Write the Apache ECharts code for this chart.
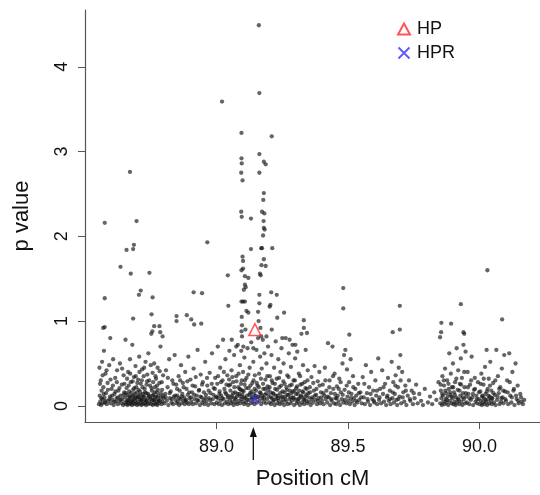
<!DOCTYPE html>
<html>
<head>
<meta charset="utf-8">
<script src="https://cdn.jsdelivr.net/npm/echarts@6/dist/echarts.min.js"></script>
<style>
  html, body { margin: 0; padding: 0; background: #fff; }
  #main { width: 540px; height: 495px; }
</style>
</head>
<body>
<div id="main"></div>
<script type="text/javascript">
// tick values
var xTicks = [89.0, 89.5, 90.0];
var yTicks = [0, 1, 2, 3, 4];

// marker SNPs
var hpPoint = [[89.146, 0.90]];
var hprPoint = [[89.146, 0.08]];
var arrowPos = 89.14;

// SNPs [position cM, p value]
var segA = [
  [88.553,0.02],[88.555,0.45],[88.556,0.12],[88.558,0.05],[88.560,0.30],[88.561,0.01],[88.563,0.18],[88.565,0.52],[88.566,0.08],[88.568,0.03],[88.570,0.22],[88.572,0.65],[88.574,0.10],[88.576,0.04],[88.578,0.38],[88.580,0.15],[88.583,0.02],[88.586,0.27],[88.589,0.06],[88.592,0.48],[88.595,0.11],[88.598,0.03],
  [88.601,0.20],[88.604,0.07],[88.607,0.55],[88.609,0.01],[88.612,0.14],[88.615,0.33],[88.617,0.05],[88.620,0.09],[88.622,0.42],[88.625,0.02],[88.627,0.18],[88.630,0.06],[88.633,0.50],[88.635,0.12],[88.638,0.03],[88.640,0.25],[88.642,0.08],[88.645,0.01],[88.647,0.36],[88.649,0.16],
  [88.651,0.04],[88.653,0.10],[88.654,0.78],[88.656,0.02],[88.658,0.21],[88.659,0.06],[88.661,0.13],[88.662,0.01],[88.664,0.40],[88.665,0.07],[88.667,0.03],[88.668,0.17],[88.670,0.09],[88.671,0.55],[88.673,0.02],[88.674,0.28],[88.676,0.05],[88.677,0.11],[88.679,0.01],[88.680,0.72],[88.682,0.04],[88.683,0.19],[88.685,0.08],[88.686,0.34],[88.688,0.02],[88.689,0.14],[88.691,0.06],[88.692,0.47],[88.694,0.03],[88.695,0.22],[88.697,0.10],[88.698,0.01],
  [88.700,0.05],[88.702,0.31],[88.703,0.12],[88.705,0.02],[88.706,0.58],[88.708,0.08],[88.709,0.17],[88.711,0.04],[88.712,0.26],[88.714,0.01],[88.715,0.09],[88.717,0.43],[88.718,0.06],[88.720,0.14],[88.721,0.02],[88.723,0.35],[88.724,0.11],[88.726,0.03],[88.727,0.20],[88.729,0.07],[88.730,0.52],[88.732,0.01],[88.733,0.15],[88.735,0.05],[88.736,0.29],[88.738,0.09],[88.739,0.02],[88.741,0.62],[88.743,0.12],[88.745,0.04],[88.747,0.24],[88.749,0.08],
  [88.751,0.02],[88.752,0.85],[88.754,0.18],[88.755,0.06],[88.757,0.39],[88.758,0.01],[88.760,0.13],[88.761,0.07],[88.763,0.50],[88.764,0.03],[88.766,0.22],[88.767,0.10],[88.769,0.02],[88.770,0.32],[88.772,0.05],[88.773,0.16],[88.775,0.01],[88.776,0.45],[88.778,0.08],[88.779,0.12],[88.781,0.03],[88.783,0.27],[88.785,0.06],[88.787,0.70],[88.789,0.10],[88.791,0.02],[88.793,0.19],[88.795,0.05],[88.797,0.36],[88.799,0.09]
];

var segB = [
  [88.802,0.03],[88.805,0.14],[88.808,0.42],[88.811,0.06],[88.814,0.22],[88.817,0.01],[88.820,0.55],[88.823,0.09],[88.826,0.17],[88.829,0.04],[88.832,0.30],[88.835,0.02],[88.838,0.11],[88.841,0.60],[88.844,0.07],[88.847,0.25],[88.849,0.03],
  [88.851,0.12],[88.853,0.05],[88.856,0.35],[88.858,0.01],[88.860,0.18],[88.863,0.08],[88.865,0.48],[88.867,0.03],[88.870,0.14],[88.872,0.27],[88.874,0.06],[88.877,0.10],[88.879,0.02],[88.881,0.40],[88.884,0.07],[88.886,0.20],[88.888,0.04],[88.891,0.13],[88.893,0.58],[88.895,0.02],[88.898,0.09],
  [88.901,0.31],[88.904,0.05],[88.907,0.16],[88.910,0.02],[88.913,0.44],[88.916,0.08],[88.919,0.23],[88.922,0.03],[88.925,0.12],[88.928,0.66],[88.931,0.06],[88.934,0.19],[88.937,0.01],[88.940,0.37],[88.943,0.10],[88.946,0.04],[88.948,0.28],
  [88.951,0.07],[88.954,0.02],[88.957,0.52],[88.960,0.13],[88.962,0.05],[88.965,0.24],[88.968,0.01],[88.971,0.09],[88.974,0.39],[88.977,0.15],[88.980,0.03],[88.983,0.62],[88.986,0.08],[88.989,0.21],[88.992,0.02],[88.995,0.33],[88.998,0.11],
  [89.001,0.04],[89.003,0.26],[89.005,0.70],[89.007,0.09],[89.009,0.02],[89.012,0.17],[89.014,0.45],[89.016,0.06],[89.018,0.12],[89.021,0.01],[89.023,0.30],[89.025,0.78],[89.027,0.08],[89.030,0.20],[89.032,0.03],[89.034,0.55],[89.036,0.14],[89.039,0.05],[89.041,0.36],[89.043,0.10],[89.045,0.02],[89.047,0.24],[89.049,0.65]
];

var segC = [
  [89.051,0.07],[89.053,0.18],[89.055,0.03],[89.057,0.42],[89.059,0.12],[89.061,0.05],[89.063,0.28],[89.065,0.01],[89.067,0.60],[89.069,0.09],[89.071,0.16],[89.073,0.04],[89.075,0.35],[89.077,0.11],[89.079,0.02],[89.081,0.72],[89.083,0.22],[89.085,0.06],[89.087,0.14],[89.089,0.48],[89.090,0.03],[89.092,0.19],[89.094,0.65],[89.095,0.08],[89.096,0.30],[89.097,0.82],[89.098,0.13],
  [89.100,0.05],[89.101,0.40],[89.102,0.70],[89.103,0.17],[89.105,0.02],[89.106,0.57],[89.107,0.25],[89.109,0.09],[89.110,0.90],[89.112,0.04],[89.114,0.33],[89.116,0.12],[89.118,0.68],[89.120,0.01],[89.122,0.21],[89.124,0.07],[89.126,0.45],[89.128,0.15],[89.130,0.03],[89.132,0.75],[89.134,0.10],[89.136,0.27],[89.138,0.05],[89.140,0.52],[89.142,0.14],[89.144,0.02],[89.146,0.36],[89.148,0.09],
  [89.150,0.18],[89.152,0.66],[89.154,0.04],[89.156,0.24],[89.158,0.80],[89.160,0.11],[89.162,0.38],[89.164,0.06],[89.166,0.58],[89.168,0.15],[89.170,0.02],[89.172,0.44],[89.174,0.09],[89.176,0.78],[89.178,0.20],[89.180,0.05],[89.182,0.62],[89.184,0.13],[89.186,0.31],[89.188,0.03],[89.190,0.50],[89.192,0.08],[89.194,0.23],[89.196,0.70],[89.198,0.12]
];

var segD = [
  [89.201,0.04],[89.203,0.35],[89.205,0.16],[89.207,0.02],[89.209,0.60],[89.211,0.09],[89.213,0.27],[89.215,0.05],[89.217,0.14],[89.219,0.45],[89.221,0.01],[89.223,0.20],[89.225,0.76],[89.227,0.08],[89.229,0.32],[89.231,0.03],[89.233,0.12],[89.235,0.55],[89.237,0.06],[89.239,0.22],[89.241,0.02],[89.243,0.40],[89.245,0.10],[89.247,0.68],[89.249,0.04],
  [89.251,0.17],[89.253,0.07],[89.255,0.50],[89.257,0.01],[89.259,0.26],[89.261,0.11],[89.263,0.80],[89.265,0.05],[89.267,0.19],[89.269,0.36],[89.271,0.02],[89.273,0.13],[89.275,0.62],[89.277,0.08],[89.279,0.24],[89.281,0.03],[89.283,0.46],[89.285,0.15],[89.287,0.06],[89.289,0.72],[89.291,0.10],[89.293,0.30],[89.295,0.01],[89.297,0.18],[89.299,0.56],
  [89.301,0.07],[89.303,0.21],[89.305,0.03],[89.307,0.64],[89.309,0.14],[89.311,0.05],[89.313,0.38],[89.315,0.09],[89.317,0.01],[89.319,0.25],[89.321,0.12],[89.323,0.85],[89.325,0.04],[89.327,0.17],[89.329,0.48],[89.331,0.08],[89.333,0.02],[89.335,0.28],[89.337,0.11],[89.339,0.66],[89.341,0.06],[89.343,0.20],[89.345,0.03],[89.347,0.42],[89.349,0.15],
  [89.352,0.05],[89.355,0.22],[89.358,0.01],[89.361,0.34],[89.364,0.10],[89.367,0.04],[89.370,0.18],[89.373,0.47],[89.376,0.07],[89.379,0.13],[89.382,0.02],[89.385,0.29],[89.388,0.09],[89.391,0.40],[89.394,0.03],[89.397,0.16]
];

var segE = [
  [89.401,0.06],[89.404,0.25],[89.407,0.02],[89.410,0.12],[89.412,0.45],[89.415,0.08],[89.418,0.18],[89.421,0.04],[89.424,0.74],[89.427,0.10],[89.430,0.30],[89.432,0.01],[89.435,0.15],[89.438,0.06],[89.441,0.70],[89.444,0.20],[89.447,0.03],[89.449,0.38],
  [89.452,0.09],[89.455,0.02],[89.458,0.23],[89.461,0.12],[89.464,0.05],[89.467,0.32],[89.470,0.01],[89.473,0.16],[89.476,0.08],[89.479,0.50],[89.482,0.04],[89.485,0.60],[89.487,0.19],[89.490,0.66],[89.493,0.03],[89.496,0.43],[89.498,0.11],
  [89.501,0.06],[89.504,0.28],[89.507,0.02],[89.510,0.55],[89.513,0.14],[89.516,0.05],[89.519,0.35],[89.522,0.09],[89.525,0.01],[89.528,0.20],[89.531,0.12],[89.535,0.04],[89.539,0.26],[89.543,0.07],[89.547,0.16],
  [89.552,0.03],[89.556,0.34],[89.560,0.10],[89.564,0.02],[89.568,0.48],[89.572,0.15],[89.576,0.05],[89.580,0.22],[89.584,0.01],[89.588,0.40],[89.592,0.08],[89.596,0.18],
  [89.600,0.04],[89.604,0.30],[89.607,0.12],[89.611,0.02],[89.615,0.56],[89.618,0.07],[89.622,0.20],[89.626,0.03],[89.630,0.42],[89.633,0.14],[89.637,0.05],[89.641,0.26],[89.645,0.01],[89.648,0.10],
  [89.652,0.33],[89.655,0.06],[89.659,0.18],[89.662,0.02],[89.666,0.52],[89.669,0.09],[89.672,0.28],[89.675,0.04],[89.678,0.14],[89.681,0.36],[89.684,0.07],[89.687,0.01],[89.690,0.22],[89.693,0.45],[89.696,0.11],[89.699,0.60],
  [89.702,0.03],[89.706,0.40],[89.710,0.16],[89.714,0.05],[89.718,0.24],[89.722,0.01],[89.727,0.12],[89.732,0.30],[89.737,0.06],[89.742,0.18],[89.747,0.02],
  [89.753,0.09],[89.759,0.25],[89.765,0.03],[89.771,0.14],[89.778,0.06],[89.785,0.01],[89.792,0.20],
  [89.804,0.04],[89.812,0.11],[89.820,0.02],[89.828,0.16],[89.836,0.07],[89.844,0.28]
];

var segF = [
  [89.851,0.03],[89.853,0.18],[89.855,0.09],[89.857,0.01],[89.859,0.35],[89.861,0.12],[89.863,0.05],[89.865,0.24],[89.867,0.02],[89.869,0.44],[89.871,0.08],[89.873,0.15],[89.875,0.04],[89.877,0.30],[89.879,0.11],[89.881,0.01],[89.883,0.20],[89.885,0.62],[89.887,0.06],[89.889,0.13],[89.891,0.38],[89.893,0.03],[89.895,0.22],[89.897,0.09],[89.899,0.50],
  [89.901,0.02],[89.903,0.16],[89.905,0.05],[89.907,0.28],[89.909,0.01],[89.911,0.10],[89.913,0.68],[89.915,0.04],[89.917,0.19],[89.919,0.42],[89.921,0.07],[89.923,0.02],[89.925,0.26],[89.927,0.12],[89.929,0.56],[89.931,0.05],[89.933,0.33],[89.935,0.01],[89.937,0.15],[89.939,0.72],[89.941,0.08],[89.943,0.22],[89.945,0.03],[89.947,0.64],[89.949,0.11],
  [89.952,0.04],[89.955,0.40],[89.958,0.14],[89.961,0.02],[89.964,0.25],[89.967,0.07],[89.970,0.58],[89.973,0.10],[89.976,0.01],[89.979,0.19],[89.982,0.33],[89.985,0.05],[89.988,0.12],[89.991,0.03],[89.994,0.28],[89.997,0.08],
  [90.001,0.02],[90.003,0.17],[90.005,0.06],[90.007,0.38],[90.009,0.01],[90.011,0.12],[90.013,0.04],[90.015,0.25],[90.017,0.09],[90.019,0.02],[90.021,0.46],[90.023,0.14],[90.025,0.05],[90.027,0.66],[90.029,0.01],[90.031,0.20],[90.033,0.08],[90.035,0.32],[90.037,0.03],[90.039,0.11],[90.041,0.52],[90.043,0.06],[90.045,0.18],[90.047,0.02],[90.049,0.09],
  [90.052,0.27],[90.055,0.04],[90.058,0.13],[90.061,0.01],[90.064,0.66],[90.067,0.07],[90.070,0.35],[90.073,0.15],[90.076,0.02],[90.079,0.22],[90.082,0.05],[90.085,0.44],[90.088,0.10],[90.091,0.03],[90.094,0.60],[90.097,0.17],
  [90.101,0.06],[90.105,0.30],[90.109,0.02],[90.113,0.62],[90.117,0.12],[90.121,0.04],[90.125,0.40],[90.129,0.18],[90.133,0.01],[90.137,0.50],[90.141,0.08],[90.145,0.24],[90.149,0.03],
  [90.155,0.14],[90.160,0.05],[90.165,0.02],[90.170,0.07]
];

// the thick part of the band, 0.05 - 0.5
var band = [
  [88.557,0.26],[88.562,0.09],[88.567,0.36],[88.571,0.14],[88.577,0.06],[88.582,0.42],[88.587,0.19],[88.593,0.08],[88.597,0.31],[88.603,0.12],[88.606,0.24],[88.611,0.05],[88.616,0.17],[88.621,0.28],[88.626,0.10],[88.631,0.21],[88.636,0.07],[88.641,0.44],[88.646,0.13],[88.650,0.26],
  [88.655,0.15],[88.660,0.32],[88.663,0.05],[88.666,0.24],[88.669,0.11],[88.672,0.38],[88.675,0.15],[88.678,0.06],[88.681,0.29],[88.684,0.12],[88.687,0.21],[88.690,0.09],[88.693,0.35],[88.696,0.16],[88.699,0.27],[88.701,0.10],[88.704,0.19],[88.707,0.40],[88.710,0.13],[88.713,0.07],
  [88.716,0.30],[88.719,0.22],[88.722,0.11],[88.725,0.45],[88.728,0.16],[88.731,0.06],[88.734,0.25],[88.737,0.37],[88.740,0.14],[88.744,0.30],[88.748,0.10],[88.750,0.48],[88.753,0.21],[88.756,0.12],[88.759,0.28],[88.762,0.07],[88.765,0.16],[88.768,0.35],[88.771,0.11],[88.774,0.24],
  [88.777,0.19],[88.780,0.06],[88.784,0.41],[88.788,0.15],[88.792,0.28],[88.796,0.12],
  [88.807,0.10],[88.815,0.33],[88.822,0.15],[88.830,0.08],[88.836,0.26],[88.843,0.12],[88.850,0.20],[88.857,0.09],[88.862,0.30],[88.868,0.11],[88.875,0.22],[88.882,0.06],[88.889,0.29],[88.896,0.16],[88.903,0.10],[88.909,0.24],[88.915,0.13],[88.921,0.34],[88.927,0.07],[88.933,0.18],
  [88.939,0.11],[88.945,0.25],[88.952,0.16],[88.958,0.09],[88.964,0.33],[88.970,0.18],[88.976,0.07],[88.982,0.26],[88.988,0.13],[88.994,0.20],[89.000,0.10],[89.006,0.35],[89.011,0.14],[89.017,0.28],[89.022,0.09],[89.028,0.40],[89.033,0.16],[89.038,0.25],[89.044,0.12],[89.048,0.31],
  [89.052,0.25],[89.056,0.10],[89.060,0.34],[89.064,0.15],[89.068,0.22],[89.072,0.08],[89.076,0.29],[89.080,0.14],[89.084,0.38],[89.088,0.20],[89.091,0.11],[89.093,0.26],[89.099,0.18],[89.104,0.10],[89.108,0.30],[89.113,0.21],[89.117,0.07],[89.121,0.37],[89.125,0.13],[89.129,0.24],
  [89.133,0.17],[89.137,0.09],[89.141,0.30],[89.145,0.20],[89.149,0.12],[89.153,0.27],[89.157,0.10],[89.161,0.22],[89.165,0.16],[89.169,0.32],[89.173,0.12],[89.177,0.26],[89.181,0.09],[89.185,0.20],[89.189,0.15],[89.193,0.35],[89.197,0.19],
  [89.202,0.22],[89.206,0.10],[89.210,0.30],[89.214,0.15],[89.218,0.07],[89.222,0.26],[89.226,0.12],[89.230,0.19],[89.234,0.09],[89.238,0.33],[89.242,0.15],[89.246,0.24],[89.250,0.11],[89.254,0.29],[89.258,0.16],[89.262,0.08],[89.266,0.22],[89.270,0.13],[89.274,0.34],[89.278,0.18],
  [89.282,0.10],[89.286,0.25],[89.290,0.17],[89.294,0.09],[89.298,0.30],[89.302,0.14],[89.306,0.23],[89.310,0.08],[89.314,0.18],[89.318,0.35],[89.322,0.11],[89.326,0.26],[89.330,0.16],[89.334,0.07],[89.338,0.21],[89.342,0.13],[89.346,0.30],[89.350,0.10],[89.356,0.16],[89.362,0.08],
  [89.368,0.27],[89.374,0.12],[89.380,0.20],[89.386,0.06],[89.392,0.24],[89.398,0.10],
  [89.406,0.15],[89.414,0.30],[89.422,0.11],[89.429,0.22],[89.436,0.08],[89.443,0.35],[89.450,0.14],[89.457,0.09],[89.465,0.20],[89.472,0.28],[89.480,0.13],[89.488,0.07],[89.495,0.24],[89.503,0.16],[89.511,0.09],[89.520,0.22],[89.530,0.06],[89.541,0.15],[89.550,0.10],[89.562,0.26],
  [89.574,0.08],[89.586,0.14],[89.598,0.06],[89.610,0.18],[89.620,0.10],[89.635,0.22],[89.650,0.12],[89.660,0.08],[89.670,0.16],[89.680,0.24],[89.692,0.08],[89.700,0.30],[89.708,0.10],[89.720,0.18],[89.735,0.08],[89.750,0.15],
  [89.852,0.25],[89.858,0.14],[89.864,0.30],[89.870,0.18],[89.876,0.07],[89.882,0.26],[89.888,0.16],[89.894,0.11],[89.900,0.22],[89.906,0.13],[89.912,0.32],[89.918,0.08],[89.924,0.18],[89.930,0.25],[89.936,0.10],[89.942,0.40],[89.948,0.15],[89.956,0.22],[89.962,0.09],[89.968,0.30],
  [89.975,0.14],[89.983,0.20],[89.990,0.08],[89.998,0.16],[90.004,0.26],[90.010,0.11],[90.016,0.32],[90.022,0.07],[90.028,0.17],[90.034,0.12],[90.040,0.24],[90.046,0.09],[90.053,0.15],[90.060,0.30],[90.068,0.11],[90.075,0.20],[90.083,0.09],[90.090,0.18],[90.098,0.08],[90.107,0.16],
  [90.115,0.28],[90.123,0.10],[90.131,0.20],[90.139,0.12],[90.147,0.06],[90.158,0.10]
];

// the high ones
var peaks = [
  [89.161,4.49],[89.163,3.69],[89.021,3.59],[89.095,3.22],[89.210,3.18],[89.163,2.97],[89.095,2.92],[89.096,2.86],[89.180,2.88],[89.187,2.85],
  [89.094,2.75],[89.163,2.75],[88.671,2.76],[89.099,2.66],[89.180,2.51],[89.178,2.43],[89.094,2.29],[89.096,2.23],[89.131,2.21],[89.173,2.29],
  [89.182,2.27],[88.575,2.16],[88.696,2.18],[89.179,2.18],[89.180,2.10],[89.183,2.08],[89.177,2.01],[88.965,1.93],[88.686,1.90],[88.683,1.85],
  [88.658,1.84],[89.131,1.85],[89.170,1.86],[89.173,1.86],[89.212,1.86],[89.099,1.76],[89.101,1.71],[89.180,1.73],[89.171,1.66],[89.187,1.65],
  [88.635,1.64],[88.674,1.56],[88.745,1.57],[89.101,1.62],[89.095,1.60],[89.108,1.53],[89.121,1.51],[89.043,1.54],[89.165,1.56],[89.168,1.54],
  [89.108,1.43],[89.111,1.40],[89.104,1.37],[88.712,1.36],[88.705,1.31],[88.913,1.34],[88.945,1.33],[88.575,1.27],[88.757,1.28],[89.163,1.31],
  [89.208,1.34],[89.229,1.31],[89.482,1.39],[89.095,1.23],[89.101,1.23],[89.108,1.23],[89.163,1.21],[89.205,1.19],[89.202,1.17],[89.045,1.18],
  [89.697,1.18],[89.929,1.20],[89.482,1.15],[89.114,1.12],[89.121,1.10],[89.158,1.11],[89.257,1.10],[88.753,1.08],[88.575,0.93],[88.569,0.92],
  [88.683,1.03],[88.848,1.06],[88.848,1.00],[88.887,1.07],[88.904,1.02],[88.915,0.96],[88.942,0.97],[89.231,1.04],[89.332,1.01],[89.332,0.92],
  [90.086,1.02],[90.030,1.60],[89.855,0.98],[89.892,0.97],[89.939,0.87],[89.942,0.85],[89.854,0.87],[89.850,0.81],[89.697,0.90],[89.670,0.87],
  [89.505,0.84],[88.763,0.94],[88.783,0.94],[88.756,0.88],[88.786,0.87],[88.795,0.82],[88.596,0.80],
  [89.096,1.05],[89.097,0.95],[89.095,0.88],[89.160,1.00],[89.167,0.92],[89.170,0.82],[89.210,0.90],[89.250,0.80],[89.278,0.78],[89.300,0.72],
  [89.344,0.86],[89.058,0.78],[89.075,0.70],[89.140,0.68],[89.190,0.82]
];

var snps = segA.concat(segB, segC, segD, segE, segF, band, peaks);

var myChart = echarts.init(document.getElementById('main'));

var font = 'Arial, "Liberation Sans", Helvetica, sans-serif';

var option = {
  animation: false,
  backgroundColor: '#fff',
  textStyle: { fontFamily: font },
  grid: { left: 85, right: 0, top: 10, bottom: 73 },
  legend: {
    data: [
      { name: 'HP', icon: 'triangle' },
      { name: 'HPR', icon: 'path://M0,0L10,10M10,0L0,10' }
    ],
    orient: 'vertical',
    left: 392,
    top: 14,
    itemWidth: 12,
    itemHeight: 11,
    itemGap: 4,
    textStyle: { fontSize: 18, color: '#111', fontFamily: font, lineHeight: 20, padding: [0, 0, 0, 2] },
    selectedMode: false
  },
  xAxis: {
    type: 'value',
    min: 88.5,
    max: 90.23,
    name: 'Position cM',
    nameLocation: 'middle',
    nameGap: 46,
    nameTextStyle: { fontSize: 22, color: '#111', fontFamily: font },
    splitLine: { show: false },
    axisLine: { show: true, onZero: false, lineStyle: { color: '#555', width: 1.2 } },
    axisTick: { show: true, length: 7, customValues: xTicks, lineStyle: { color: '#555' } },
    axisLabel: {
      customValues: xTicks,
      margin: 16,
      fontSize: 18,
      color: '#111',
      formatter: function (v) { return v.toFixed(1); }
    }
  },
  yAxis: {
    type: 'value',
    min: -0.19,
    max: 4.67,
    name: 'p value',
    nameLocation: 'middle',
    nameGap: 52,
    nameTextStyle: { fontSize: 22, color: '#111', fontFamily: font },
    splitLine: { show: false },
    axisLine: { show: true, onZero: false, lineStyle: { color: '#555', width: 1.2 } },
    axisTick: { show: true, length: 7, customValues: yTicks, lineStyle: { color: '#555' } },
    axisLabel: {
      customValues: yTicks,
      rotate: 90,
      margin: 14,
      fontSize: 18,
      color: '#111'
    }
  },
  series: [
    {
      name: 'SNP',
      type: 'scatter',
      data: snps,
      symbol: 'circle',
      symbolSize: 4.3,
      itemStyle: { color: 'rgba(20,20,20,0.82)' },
      silent: true
    },
    {
      name: 'HP',
      type: 'scatter',
      data: hpPoint,
      symbol: 'triangle',
      symbolSize: 12,
      itemStyle: { color: 'rgba(255,255,255,0)', borderColor: '#ff2a2a', borderWidth: 1.5 },
      z: 5
    },
    {
      name: 'HPR',
      type: 'scatter',
      data: hprPoint,
      symbol: 'path://M0,0L10,10M10,0L0,10',
      symbolSize: 8,
      itemStyle: { color: 'rgba(255,255,255,0)', borderColor: '#3535ff', borderWidth: 1.5 },
      z: 5
    }
  ]
};

myChart.setOption(option);

// arrow under the x axis marking the HP position
var ax = myChart.convertToPixel({ xAxisIndex: 0 }, arrowPos);
myChart.setOption({
  graphic: [
    {
      type: 'line',
      shape: { x1: ax, y1: 460, x2: ax, y2: 432 },
      style: { stroke: '#111', lineWidth: 1.3 }
    },
    {
      type: 'polygon',
      shape: { points: [[ax - 3.5, 437], [ax + 3.5, 437], [ax, 427]] },
      style: { fill: '#111' }
    }
  ]
});
</script>
</body>
</html>
